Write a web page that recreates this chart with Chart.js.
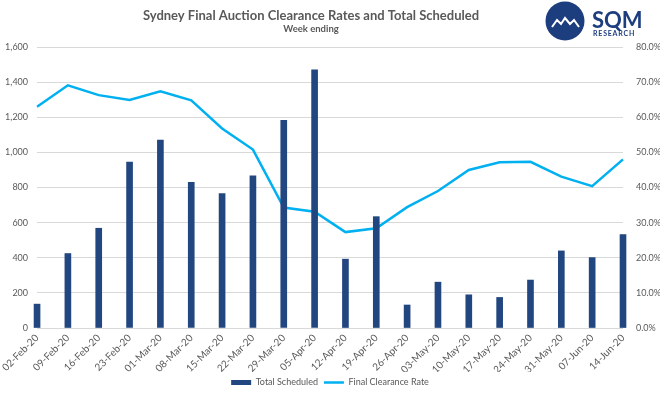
<!DOCTYPE html>
<html>
<head>
<meta charset="utf-8">
<script src="https://cdn.jsdelivr.net/npm/chart.js@4.4.1/dist/chart.umd.min.js"></script>
<style>
  html, body { margin: 0; padding: 0; background: #fff; }
  #wrap { width: 660px; height: 397px; position: relative; }
</style>
</head>
<body>
<div id="wrap"><canvas id="chart"></canvas></div>
<script>
// Semaines (fin de semaine) et valeurs
const weeks = ['02-Feb-20', '09-Feb-20', '16-Feb-20', '23-Feb-20', '01-Mar-20', '08-Mar-20', '15-Mar-20',
    '22-Mar-20', '29-Mar-20', '05-Apr-20', '12-Apr-20', '19-Apr-20', '26-Apr-20', '03-May-20',
    '10-May-20', '17-May-20', '24-May-20', '31-May-20', '07-Jun-20', '14-Jun-20'];
const totalScheduled = [136, 424, 568, 945, 1070, 830, 765, 867, 1183, 1470, 392, 634, 131, 261, 189, 174, 273, 439, 401, 532];
const clearanceRate = [63.0, 69.1, 66.3, 64.9, 67.4, 64.8, 56.8, 50.8, 34.3, 33.1, 27.3, 28.4, 34.4, 39.0, 45.0, 47.2, 47.3, 43.1, 40.4, 48.0];

// Graduations des deux axes
const countTicks = [0, 200, 400, 600, 800, 1000, 1200, 1400, 1600];
const rateTicks = [0, 10, 20, 30, 40, 50, 60, 70, 80];

const navy = '#22467f';
const cyan = '#00b0f0';
const grey = '#595959';
const font = 'Lato, "Open Sans", sans-serif';

// Titre + logo SQM dessinés sur le canvas
const headerPlugin = {
    id: 'header',
    afterDraw(chart) {
        const ctx = chart.ctx;
        ctx.save();
        ctx.fillStyle = grey;
        ctx.textAlign = 'center';
        ctx.textBaseline = 'alphabetic';
        ctx.font = 'bold 13px ' + font;
        ctx.fillText('Sydney Final Auction Clearance Rates and Total Scheduled', 311, 20);
        ctx.font = 'bold 9.5px ' + font;
        ctx.fillText('Week ending', 311, 32);

        // logo
        ctx.fillStyle = '#1c3d7e';
        ctx.beginPath();
        ctx.arc(565, 21, 19.5, 0, Math.PI * 2);
        ctx.fill();
        ctx.strokeStyle = '#fff';
        ctx.lineWidth = 2;
        ctx.beginPath();
        ctx.moveTo(552, 27);
        ctx.lineTo(557, 20);
        ctx.lineTo(561, 24);
        ctx.lineTo(565, 18);
        ctx.lineTo(570, 24);
        ctx.lineTo(574, 20);
        ctx.lineTo(579, 27);
        ctx.stroke();

        ctx.textAlign = 'left';
        ctx.font = 'bold 22px ' + font;
        ctx.fillText('SQM', 592, 28);
        ctx.font = 'bold 7px ' + font;
        ctx.letterSpacing = '0.8px';
        ctx.fillText('RESEARCH', 593, 36);
        ctx.restore();
    }
};

const ctx = document.getElementById('chart').getContext('2d');
new Chart(ctx, {
    type: 'bar',
    data: {
        labels: weeks,
        datasets: [
            {
                type: 'bar',
                label: 'Total Scheduled',
                data: totalScheduled,
                backgroundColor: navy,
                barThickness: 6,
                yAxisID: 'y',
                order: 1,
                clip: false,
                pointStyle: 'rect'
            },
            {
                type: 'line',
                label: 'Final Clearance Rate',
                data: clearanceRate,
                borderColor: cyan,
                backgroundColor: cyan,
                borderWidth: 2.5,
                pointRadius: 0,
                tension: 0,
                yAxisID: 'y1',
                order: 2,
                pointStyle: 'line'
            }
        ]
    },
    options: {
        responsive: true,
        maintainAspectRatio: false,
        animation: false,
        layout: { padding: { top: 47, left: 0, right: 0, bottom: 0 } },
        scales: {
            x: {
                offset: false,
                grid: { display: false, drawTicks: false },
                border: { display: false },
                ticks: {
                    autoSkip: false,
                    maxRotation: 45,
                    minRotation: 45,
                    padding: 4,
                    color: grey,
                    font: { family: font, size: 10 }
                },
                afterFit: (s) => { s.height = s.chart.height - 328 - s.chart.legend.height; }
            },
            y: {
                position: 'left',
                min: 0,
                max: 1600,
                grid: { color: '#d9d9d9', drawTicks: false },
                border: { display: false },
                ticks: {
                    padding: 9,
                    color: grey,
                    font: { family: font, size: 9 },
                    callback: (v) => v.toLocaleString('en-US')
                },
                afterBuildTicks: (s) => { s.ticks = countTicks.map(v => ({ value: v })); },
                afterFit: (s) => { s.width = 35; }
            },
            y1: {
                position: 'right',
                min: 0,
                max: 80,
                grid: { drawOnChartArea: false, drawTicks: false },
                border: { display: false },
                ticks: {
                    padding: 13,
                    color: grey,
                    font: { family: font, size: 9 },
                    callback: (v) => v.toFixed(1) + '%'
                },
                afterBuildTicks: (s) => { s.ticks = rateTicks.map(v => ({ value: v })); },
                afterFit: (s) => { s.width = 37; }
            }
        },
        plugins: {
            legend: {
                position: 'bottom',
                labels: {
                    usePointStyle: true,
                    pointStyleWidth: 20,
                    boxHeight: 5,
                    padding: 6,
                    color: grey,
                    font: { family: font, size: 9 }
                }
            },
            tooltip: { enabled: false }
        }
    },
    plugins: [headerPlugin]
});
</script>
</body>
</html>
